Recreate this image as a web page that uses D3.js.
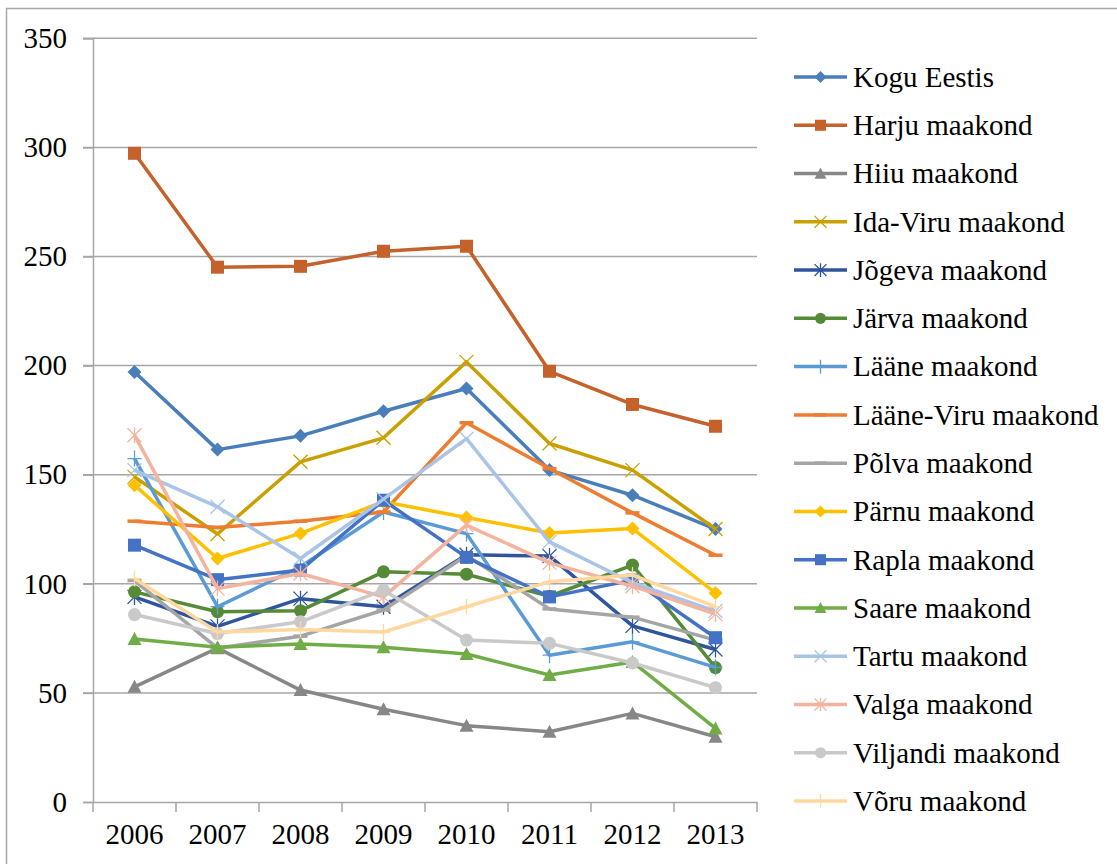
<!DOCTYPE html>
<html><head><meta charset="utf-8">
<script src="https://cdn.jsdelivr.net/npm/d3@7"></script>
<style>body{margin:0;background:#fff}svg{display:block}</style>
</head><body>
<script>
const years = ["2006","2007","2008","2009","2010","2011","2012","2013"];
const yTicks = [0,50,100,150,200,250,300,350];
const seriesNames = ["Kogu Eestis","Harju maakond","Hiiu maakond","Ida-Viru maakond","Jõgeva maakond","Järva maakond","Lääne maakond","Lääne-Viru maakond","Põlva maakond","Pärnu maakond","Rapla maakond","Saare maakond","Tartu maakond","Valga maakond","Viljandi maakond","Võru maakond"];
const koguEestis = [197.1,161.5,167.8,179.1,189.5,152.1,140.6,125.1];
const harju      = [297.3,245.1,245.5,252.4,254.7,197.4,182.2,172.2];
const hiiu       = [52.8,70.5,51.3,42.5,35.0,32.2,40.6,29.9];
const idaViru    = [149.0,122.8,155.9,166.9,201.7,164.3,152.1,125.1];
const jogeva     = [94.0,80.5,93.2,89.5,113.3,112.7,80.7,69.9];
const jarva      = [96.3,87.2,87.7,105.5,104.4,94.3,108.6,61.6];
const laane      = [157.4,89.5,107.8,132.9,123.0,67.3,73.4,61.7];
const laaneViru  = [128.7,125.8,128.7,132.9,173.8,152.8,132.5,113.1];
const polva      = [101.5,70.5,76.0,88.0,113.0,88.5,84.7,74.2];
const parnu      = [145.2,111.6,123.1,137.6,130.4,123.3,125.3,95.8];
const rapla      = [117.7,101.9,106.3,138.3,112.1,94.0,101.7,75.3];
const saare      = [74.7,70.9,72.4,70.9,67.8,58.2,64.2,33.7];
const tartu      = [152.1,135.3,111.6,138.8,166.5,119.2,100.5,87.5];
const valga      = [168.1,97.8,104.7,94.0,126.9,109.6,98.9,86.1];
const viljandi   = [85.9,77.2,82.6,97.1,74.2,72.7,63.7,52.4];
const voru       = [102.4,77.9,79.0,77.9,89.5,100.9,104.0,89.5];
const seriesValues = [koguEestis,harju,hiiu,idaViru,jogeva,jarva,laane,laaneViru,polva,parnu,rapla,saare,tartu,valga,viljandi,voru];
const colors = ["#4A7EBB","#C5622B","#878787","#C9A000","#2F559F","#558B37","#5B9BD5","#ED7D31","#A5A5A5","#FFC000","#4472C4","#70AD47","#A9C4E6","#F4B39E","#C9C9C9","#FFD8A0"];
const markers = ["diamond","square","triangle","x","star","circle","plus","dash","dash","diamond","square","triangle","x","star","circle","plus"];

const W=1117,H=864;
const svg=d3.select("body").append("svg").attr("width",W).attr("height",H);
const font="'Liberation Serif','Times New Roman',serif";

// frame
svg.append("path").attr("d",`M6.5,${H+5} L6.5,8.5 L${W+5},8.5`).attr("fill","none").attr("stroke","#A6A6A6").attr("stroke-width",1.5);

const L=93,R=757,T=38.3,B=802;
const x=d3.scaleBand().domain(years).range([L,R]);
const y=d3.scaleLinear().domain([0,350]).range([B,T]);

// gridlines
svg.append("g").selectAll("line").data(yTicks.filter(d=>d>0)).join("line")
 .attr("x1",L-10).attr("x2",R).attr("y1",d=>y(d)).attr("y2",d=>y(d))
 .attr("stroke","#A6A6A6").attr("stroke-width",1.5);

// y axis
const ya=svg.append("g").attr("transform",`translate(${L},0)`).call(d3.axisLeft(y).tickValues(yTicks).tickSize(10).tickPadding(16));
ya.select(".domain").attr("stroke","#A6A6A6").attr("stroke-width",1.5);
ya.selectAll(".tick line").attr("stroke","#A6A6A6").attr("stroke-width",1.5);
ya.selectAll("text").attr("font-family",font).attr("font-size",29).attr("fill","#000");

// x axis
const xa=svg.append("g").attr("transform",`translate(0,${B})`).call(d3.axisBottom(x).tickSize(0).tickPadding(21));
xa.select(".domain").attr("stroke","#A6A6A6").attr("stroke-width",1.5);
xa.selectAll("text").attr("font-family",font).attr("font-size",29).attr("fill","#000");
svg.append("g").selectAll("line").data(d3.range(years.length+1)).join("line")
 .attr("x1",i=>L+i*x.step()).attr("x2",i=>L+i*x.step()).attr("y1",B).attr("y2",B+10)
 .attr("stroke","#A6A6A6").attr("stroke-width",1.5);

function drawMarker(g,type,color,cx,cy,s){
  s=s||1;
  if(type==="diamond"){
    g.append("path").attr("d",`M${cx},${cy-7*s}L${cx+7*s},${cy}L${cx},${cy+7*s}L${cx-7*s},${cy}Z`).attr("fill",color);
  } else if(type==="square"){
    g.append("rect").attr("x",cx-6.5*s).attr("y",cy-6.5*s).attr("width",13*s).attr("height",13*s).attr("fill",color);
  } else if(type==="triangle"){
    g.append("path").attr("d",`M${cx},${cy-7*s}L${cx+7*s},${cy+6*s}L${cx-7*s},${cy+6*s}Z`).attr("fill",color);
  } else if(type==="circle"){
    g.append("circle").attr("cx",cx).attr("cy",cy).attr("r",6.5*s).attr("fill",color);
  } else if(type==="x"){
    g.append("path").attr("d",`M${cx-7*s},${cy-7*s}L${cx+7*s},${cy+7*s}M${cx+7*s},${cy-7*s}L${cx-7*s},${cy+7*s}`).attr("stroke",color).attr("stroke-width",1.3);
  } else if(type==="star"){
    g.append("path").attr("d",`M${cx-7*s},${cy-7*s}L${cx+7*s},${cy+7*s}M${cx+7*s},${cy-7*s}L${cx-7*s},${cy+7*s}M${cx},${cy-8*s}L${cx},${cy+8*s}`).attr("stroke",color).attr("stroke-width",1.3);
  } else if(type==="plus"){
    g.append("path").attr("d",`M${cx-7*s},${cy}L${cx+7*s},${cy}M${cx},${cy-8*s}L${cx},${cy+8*s}`).attr("stroke",color).attr("stroke-width",1.3);
  } else if(type==="dash"){
    g.append("path").attr("d",`M${cx-7*s},${cy}L${cx+7*s},${cy}`).attr("stroke",color).attr("stroke-width",3.5);
  }
}

const line=d3.line().x((d,i)=>x(years[i])+x.bandwidth()/2).y(d=>y(d));
seriesValues.forEach((vals,si)=>{
  const g=svg.append("g");
  g.append("path").attr("d",line(vals)).attr("fill","none").attr("stroke",colors[si]).attr("stroke-width",3.5).attr("stroke-linejoin","round");
  vals.forEach((v,i)=>drawMarker(g,markers[si],colors[si],x(years[i])+x.bandwidth()/2,y(v)));
});

// legend
const lg=svg.append("g");
seriesNames.forEach((n,i)=>{
  const cy=77+i*48.27;
  lg.append("line").attr("x1",794).attr("x2",847).attr("y1",cy).attr("y2",cy).attr("stroke",colors[i]).attr("stroke-width",3.5);
  drawMarker(lg,markers[i],colors[i],820.5,cy,0.85);
  lg.append("text").attr("x",853).attr("y",cy).attr("dy","0.34em").attr("font-family",font).attr("font-size",29).attr("fill","#000").text(n);
});
</script>
</body></html>
